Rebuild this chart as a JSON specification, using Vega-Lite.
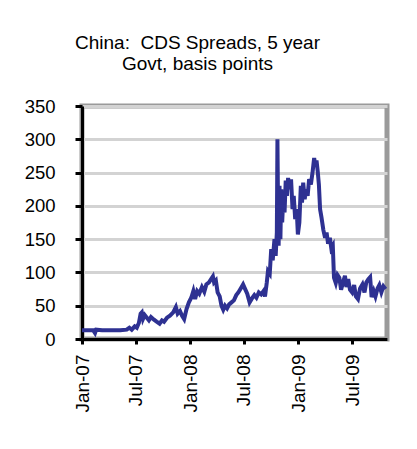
{
  "$schema": "https://vega.github.io/schema/vega-lite/v6.json",
  "width": 305,
  "height": 233,
  "autosize": {"type": "none"},
  "padding": {"left": 82, "top": 106, "right": 30, "bottom": 110},
  "background": "white",
  "title": {
    "text": ["China:\u00a0 CDS Spreads, 5 year", "Govt, basis points"],
    "frame": "group",
    "anchor": "middle",
    "dx": -37,
    "offset": 23,
    "font": "Liberation Sans",
    "fontSize": 19,
    "fontWeight": "normal",
    "color": "black",
    "lineHeight": 21
  },
  "config": {
    "view": {"stroke": "#9a9a9a", "strokeWidth": 5},
    "axis": {
      "labelFont": "Liberation Sans",
      "labelColor": "black",
      "domainColor": "black",
      "tickColor": "black",
      "title": null
    }
  },
  "data": {
    "values": [
      {"date": "2007-01-01", "spread": 13},
      {"date": "2007-01-20", "spread": 13},
      {"date": "2007-02-08", "spread": 13},
      {"date": "2007-02-14", "spread": 9},
      {"date": "2007-02-18", "spread": 14},
      {"date": "2007-03-10", "spread": 13},
      {"date": "2007-04-10", "spread": 13},
      {"date": "2007-05-10", "spread": 13},
      {"date": "2007-06-01", "spread": 14},
      {"date": "2007-06-10", "spread": 17},
      {"date": "2007-06-18", "spread": 14},
      {"date": "2007-06-28", "spread": 19},
      {"date": "2007-07-05", "spread": 17},
      {"date": "2007-07-12", "spread": 24},
      {"date": "2007-07-18", "spread": 38},
      {"date": "2007-07-22", "spread": 40},
      {"date": "2007-07-26", "spread": 30},
      {"date": "2007-08-01", "spread": 36},
      {"date": "2007-08-08", "spread": 32},
      {"date": "2007-08-15", "spread": 28},
      {"date": "2007-08-22", "spread": 33},
      {"date": "2007-09-01", "spread": 29},
      {"date": "2007-09-10", "spread": 26},
      {"date": "2007-09-20", "spread": 23},
      {"date": "2007-09-28", "spread": 28},
      {"date": "2007-10-05", "spread": 26},
      {"date": "2007-10-15", "spread": 32},
      {"date": "2007-10-25", "spread": 35},
      {"date": "2007-11-05", "spread": 40},
      {"date": "2007-11-14", "spread": 48},
      {"date": "2007-11-20", "spread": 38},
      {"date": "2007-11-28", "spread": 42},
      {"date": "2007-12-05", "spread": 35},
      {"date": "2007-12-12", "spread": 30},
      {"date": "2007-12-20", "spread": 45},
      {"date": "2007-12-28", "spread": 55},
      {"date": "2008-01-05", "spread": 62},
      {"date": "2008-01-12", "spread": 72},
      {"date": "2008-01-18", "spread": 60},
      {"date": "2008-01-25", "spread": 72},
      {"date": "2008-02-01", "spread": 68},
      {"date": "2008-02-10", "spread": 78},
      {"date": "2008-02-18", "spread": 71},
      {"date": "2008-02-25", "spread": 82},
      {"date": "2008-03-05", "spread": 85},
      {"date": "2008-03-12", "spread": 90},
      {"date": "2008-03-18", "spread": 94},
      {"date": "2008-03-22", "spread": 85},
      {"date": "2008-03-28", "spread": 88},
      {"date": "2008-04-03", "spread": 70},
      {"date": "2008-04-10", "spread": 64},
      {"date": "2008-04-16", "spread": 50},
      {"date": "2008-04-22", "spread": 44},
      {"date": "2008-04-28", "spread": 50},
      {"date": "2008-05-05", "spread": 46},
      {"date": "2008-05-12", "spread": 52},
      {"date": "2008-05-20", "spread": 55},
      {"date": "2008-05-28", "spread": 58},
      {"date": "2008-06-05", "spread": 66},
      {"date": "2008-06-12", "spread": 70},
      {"date": "2008-06-20", "spread": 76},
      {"date": "2008-06-28", "spread": 82},
      {"date": "2008-07-05", "spread": 75},
      {"date": "2008-07-12", "spread": 68},
      {"date": "2008-07-20", "spread": 55},
      {"date": "2008-07-28", "spread": 61},
      {"date": "2008-08-05", "spread": 66},
      {"date": "2008-08-12", "spread": 62},
      {"date": "2008-08-20", "spread": 70},
      {"date": "2008-08-28", "spread": 67},
      {"date": "2008-09-05", "spread": 72},
      {"date": "2008-09-10", "spread": 64},
      {"date": "2008-09-16", "spread": 85},
      {"date": "2008-09-20", "spread": 102},
      {"date": "2008-09-26", "spread": 98},
      {"date": "2008-10-01", "spread": 135},
      {"date": "2008-10-06", "spread": 118},
      {"date": "2008-10-12", "spread": 150},
      {"date": "2008-10-16", "spread": 125},
      {"date": "2008-10-20", "spread": 160},
      {"date": "2008-10-22", "spread": 300},
      {"date": "2008-10-24", "spread": 200},
      {"date": "2008-10-26", "spread": 140},
      {"date": "2008-10-29", "spread": 230},
      {"date": "2008-11-01", "spread": 150},
      {"date": "2008-11-04", "spread": 225},
      {"date": "2008-11-07", "spread": 175},
      {"date": "2008-11-11", "spread": 215},
      {"date": "2008-11-15", "spread": 190},
      {"date": "2008-11-19", "spread": 238},
      {"date": "2008-11-23", "spread": 215},
      {"date": "2008-11-27", "spread": 242},
      {"date": "2008-12-02", "spread": 225},
      {"date": "2008-12-07", "spread": 240},
      {"date": "2008-12-12", "spread": 195},
      {"date": "2008-12-16", "spread": 215},
      {"date": "2008-12-21", "spread": 180},
      {"date": "2008-12-26", "spread": 195},
      {"date": "2008-12-30", "spread": 157},
      {"date": "2009-01-04", "spread": 175},
      {"date": "2009-01-09", "spread": 230},
      {"date": "2009-01-13", "spread": 205},
      {"date": "2009-01-17", "spread": 235},
      {"date": "2009-01-22", "spread": 210},
      {"date": "2009-01-27", "spread": 225},
      {"date": "2009-02-01", "spread": 215},
      {"date": "2009-02-06", "spread": 240},
      {"date": "2009-02-12", "spread": 232},
      {"date": "2009-02-18", "spread": 252},
      {"date": "2009-02-23", "spread": 272},
      {"date": "2009-02-27", "spread": 260},
      {"date": "2009-03-03", "spread": 268},
      {"date": "2009-03-07", "spread": 252},
      {"date": "2009-03-11", "spread": 232},
      {"date": "2009-03-15", "spread": 195},
      {"date": "2009-03-20", "spread": 182},
      {"date": "2009-03-26", "spread": 164},
      {"date": "2009-04-01", "spread": 152},
      {"date": "2009-04-06", "spread": 160},
      {"date": "2009-04-11", "spread": 143},
      {"date": "2009-04-17", "spread": 152},
      {"date": "2009-04-22", "spread": 136},
      {"date": "2009-04-27", "spread": 140},
      {"date": "2009-05-01", "spread": 92},
      {"date": "2009-05-07", "spread": 84},
      {"date": "2009-05-13", "spread": 96},
      {"date": "2009-05-19", "spread": 92},
      {"date": "2009-05-25", "spread": 74},
      {"date": "2009-06-01", "spread": 86},
      {"date": "2009-06-07", "spread": 95},
      {"date": "2009-06-12", "spread": 78},
      {"date": "2009-06-18", "spread": 90},
      {"date": "2009-06-24", "spread": 74},
      {"date": "2009-07-01", "spread": 70},
      {"date": "2009-07-08", "spread": 81},
      {"date": "2009-07-14", "spread": 64},
      {"date": "2009-07-21", "spread": 60},
      {"date": "2009-07-28", "spread": 76},
      {"date": "2009-08-05", "spread": 82},
      {"date": "2009-08-12", "spread": 70},
      {"date": "2009-08-18", "spread": 85},
      {"date": "2009-08-25", "spread": 90},
      {"date": "2009-08-31", "spread": 93},
      {"date": "2009-09-05", "spread": 63},
      {"date": "2009-09-12", "spread": 72},
      {"date": "2009-09-18", "spread": 64},
      {"date": "2009-09-25", "spread": 76},
      {"date": "2009-10-01", "spread": 81},
      {"date": "2009-10-08", "spread": 70},
      {"date": "2009-10-15", "spread": 79},
      {"date": "2009-10-22", "spread": 75}
    ]
  },
  "mark": {"type": "line", "color": "#2e3192", "strokeWidth": 4, "strokeJoin": "miter", "clip": true},
  "encoding": {
    "x": {
      "field": "date",
      "type": "temporal",
      "scale": {"type": "utc", "domain": ["2007-01-01", "2009-10-27"], "nice": false},
      "axis": {
        "labelExpr": "utcFormat(datum.value, '%b-%y')",
        "tickCount": {"interval": "month", "step": 6},
        "labelAngle": -90,
        "labelAlign": "right",
        "labelBaseline": "middle",
        "labelFontSize": 19,
        "labelPadding": 10,
        "domainWidth": 3,
        "tickWidth": 3,
        "tickSize": 5,
        "grid": false,
        "labelOverlap": false,
        "labelFlush": false
      }
    },
    "y": {
      "field": "spread",
      "type": "quantitative",
      "scale": {"domain": [0, 350], "nice": false},
      "axis": {
        "values": [0, 50, 100, 150, 200, 250, 300, 350],
        "labelFontSize": 18.5,
        "labelPadding": 20,
        "domainWidth": 3,
        "tickWidth": 3,
        "tickSize": 7,
        "grid": true,
        "gridColor": "#d3d3d3",
        "gridWidth": 3,
        "gridOpacity": 1
      }
    }
  }
}
